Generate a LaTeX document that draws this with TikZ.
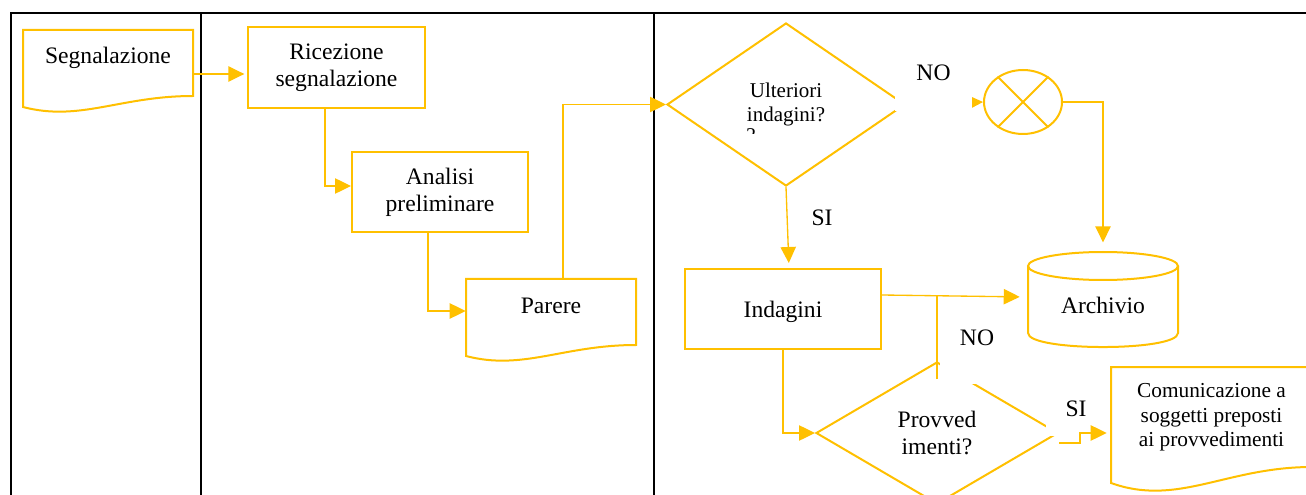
\documentclass[tikz,border=0pt]{standalone}
\usepackage{fontspec}
\setmainfont{Liberation Serif}
\usetikzlibrary{arrows.meta,shapes.geometric}
\definecolor{gold}{HTML}{FFC000}
\newcommand\ftA{\fontsize{17.7pt}{20.25pt}\selectfont}
\newcommand\ftB{\fontsize{15.75pt}{18pt}\selectfont}
\newcommand\ftC{\fontsize{16pt}{18.4pt}\selectfont}
\begin{document}
\begin{tikzpicture}[x=0.75pt,y=-0.75pt,
  shp/.style={draw=gold,line width=1.5pt},
  boxnode/.style={shp,rectangle,inner sep=0pt,align=center,font=\ftA},
  ghost/.style={rectangle,inner sep=0pt,align=center,font=\ftA},
  conn/.style={draw=gold,line width=1pt,-{Triangle[length=12pt,width=11.5pt]}},
  plainconn/.style={draw=gold,line width=1pt},
  lbl/.style={fill=white,inner sep=0pt,font=\ftA},
  frame/.style={draw=black,line width=1.5pt}]
\clip (0,0) rectangle (1306,495);
\fill[white] (0,0) rectangle (1306,495);
% table frame
\draw[frame] (10,13) -- (1306,13);
\draw[frame] (11,13) -- (11,495);
\draw[frame] (201,13) -- (201,495);
\draw[frame] (654,13) -- (654,495);
% shapes
\node[ghost,minimum width=127.5pt,minimum height=66pt,text height=25.5pt,text depth=40.5pt] (seg) at (108,74) {Segnalazione};
\draw[shp] (23,30) -- (193,30) -- (193,96) .. controls (120,96) and (80,122) .. (23,107) -- cycle;
\node[boxnode,minimum width=132.75pt,minimum height=60.75pt] (ric) at (336.5,67.5) {Ricezione\\segnalazione};
\node[boxnode,minimum width=132pt,minimum height=60pt] (ana) at (440,192) {Analisi\\preliminare};
\node[ghost,minimum width=127.5pt,minimum height=48pt,text height=25.5pt,text depth=22.5pt] (par) at (551,311) {Parere};
\draw[shp] (466,279) -- (636,279) -- (636,345) .. controls (563,345) and (523,371) .. (466,356) -- cycle;
\node[shp,diamond,minimum width=178.5pt,minimum height=122.25pt,inner sep=0pt,align=center,font=\ftB] (ult) at (786,104.5) {Ulteriori\\indagini?};
\begin{scope}
  \clip (740,122) rectangle (770,134);
  \node[anchor=base west,font=\ftB,inner sep=0pt] (qm) at (746,143) {?};
\end{scope}
\node[shp,ellipse,minimum width=58.5pt,minimum height=48pt,inner sep=0pt] (xc) at (1023,102) {};
\draw[shp] (xc.135) -- (xc.-45) (xc.45) -- (xc.-135);
\node[boxnode,minimum width=147pt,minimum height=60pt,text height=36pt,text depth=24pt] (ind) at (783,309) {Indagini};
\node[ghost,minimum width=112.5pt,minimum height=71.25pt,text height=46.5pt,text depth=24.75pt] (arc) at (1103,299.5) {Archivio};
\draw[shp] (1103,266) ellipse [x radius=75, y radius=14];
\draw[shp] (1028,266) -- (1028,333) .. controls (1028,351.7) and (1178,351.7) .. (1178,333) -- (1178,266);
\node[shp,diamond,minimum width=181.5pt,minimum height=106.5pt,inner sep=0pt,align=center,font=\ftA] (prov) at (937,433) {Provved\\imenti?};
\node[ghost,font=\ftC,minimum width=150.75pt,minimum height=75.75pt] (com) at (1211.5,417.5) {Comunicazione a\\soggetti preposti\\ai provvedimenti};
\draw[shp] (1111,367) -- (1312,367) -- (1312,467) .. controls (1226,467) and (1178,507) .. (1111,483) -- cycle;
% connectors
\draw[conn,shorten >=2pt] (seg.east) -- (seg.east -| ric.west);
\draw[conn] (ric.south -| 325,0) |- (ana.west |- 0,186);
\draw[conn] (ana.south -| 428,0) |- (par.west);
\draw[conn] (par.north -| 563,0) |- (ult.west);
\draw[conn] (ult.east) -- (xc.west);
\draw[conn,shorten >=7pt] (xc.east) -| (arc.north);
\draw[conn,shorten >=3.75pt] (ult.south) -- (ind.north -| 789,0);
\draw[conn,shorten >=6pt] (ind.east |- 0,295) -- (arc.west |- 0,297);
\draw[plainconn] ([yshift=-13.5pt]prov.north) -- (prov.north |- 0,296);
\draw[conn] (ind.south) |- (prov.west);
% labels
\node[lbl,minimum width=57.75pt,text height=23.25pt,text depth=22.5pt] (no1) at (933.5,80.5) {NO};
\node[anchor=base,font=\ftA,inner sep=0pt] (si1) at (822,226) {SI};
\node[lbl,minimum width=55.5pt,text height=24pt,text depth=29.25pt] (no2) at (977,348.5) {NO};
\node[lbl,minimum width=45pt,text height=15.75pt,text depth=15pt] (si2) at (1076,415.5) {SI};
\draw[conn,shorten >=3pt] (prov.east |- 0,443) -- ++(21,0) |- (com.west |- 0,433);
\end{tikzpicture}
\end{document}
